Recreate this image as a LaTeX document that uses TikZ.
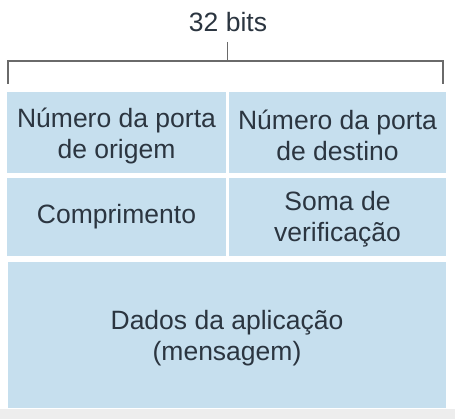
\documentclass[tikz,border=0pt]{standalone}
\usepackage{fontspec}
\setmainfont{Liberation Sans}
\definecolor{boxfill}{HTML}{C6DFEE}
\definecolor{txt}{HTML}{2B3540}
\definecolor{brk}{HTML}{6A6A6A}
\definecolor{strip}{HTML}{EDEDED}
\begin{document}
\begin{tikzpicture}[x=1pt,y=-1pt,
  field/.style={fill=boxfill, draw=none, inner sep=0pt},
  fieldtext/.style={inner sep=0pt, align=center, text=txt,
    font=\fontsize{26.5}{31}\selectfont},
  bracket/.style={draw=brk, line width=1.5pt}]
\useasboundingbox (0,0) rectangle (455,419);
\fill[white] (0,0) rectangle (455,419);
\fill[strip] (0,409) rectangle (455,419);
% label and bracket
\node[text=txt, font=\fontsize{26.5}{31}\selectfont, inner sep=0pt] (lbl) at (228,22) {32 bits};
\coordinate (tickTop) at (227.5,42);
\coordinate (tickBot) at (227.5,61);
\coordinate (bL) at (8,84);
\coordinate (bR) at (443,84);
\draw[bracket] (bL) |- (tickBot) -| (bR);
\draw[bracket] (tickTop) -- (tickBot);
% fields
\node[field, minimum width=219pt, minimum height=81pt] (src) at (116.5,132.5) {};
\node[field, minimum width=217pt, minimum height=81pt] (dst) at (337.5,132.5) {};
\node[field, minimum width=219pt, minimum height=78pt] (len) at (116.5,217) {};
\node[field, minimum width=217pt, minimum height=78pt] (chk) at (337.5,217) {};
\node[field, minimum width=438pt, minimum height=146pt] (data) at (227,335) {};
\node[fieldtext] (srcT) at ([yshift=-3pt]src.center) {Número da porta\\de origem};
\node[fieldtext] (dstT) at ([yshift=-3pt]dst.center) {Número da porta\\de destino};
\node[fieldtext] (lenT) at (len.center) {Comprimento};
\node[fieldtext] (chkT) at ([yshift=-2pt]chk.center) {Soma de\\verificação};
\node[fieldtext] (dataT) at ([yshift=-3pt]data.center) {Dados da aplicação\\(mensagem)};
\end{tikzpicture}
\end{document}
